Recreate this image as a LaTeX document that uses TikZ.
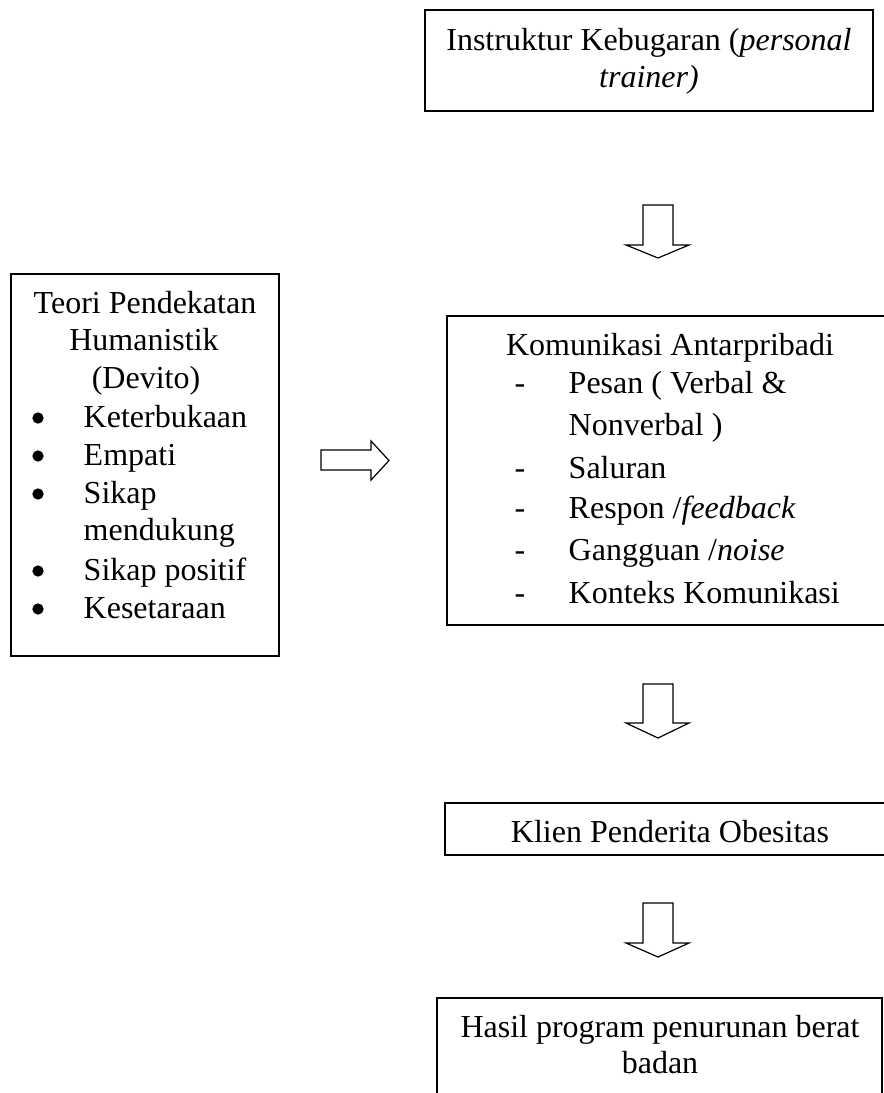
\documentclass[tikz,border=0pt]{standalone}
\usepackage{fontspec}
\setmainfont{Liberation Serif}
\usepackage{tikz}

\tikzset{
  txt/.style={anchor=base,font=\fontsize{24}{29}\selectfont},
  txtl/.style={txt,anchor=base west},
  box/.style={line width=1pt},
  blockarrow/.style={line width=0.9pt,line join=miter},
  bulletdot/.style={circle,fill,inner sep=0pt,minimum size=8.5pt}
}

\begin{document}
\begin{tikzpicture}[x=0.75pt,y=0.75pt,yscale=-1,xscale=1]
%set diagram left start at 0, and has height of 1093
\clip (0,0) rectangle (884,1093);

%Shape: Rectangle [top]
\draw [box] (425,10) rectangle (873,111) ;
%Shape: Rectangle [left]
\draw [box] (11,274) rectangle (279,656) ;
%Shape: Rectangle [middle]
\draw [box] (447,316) rectangle (900,625) ;
%Shape: Rectangle [klien]
\draw [box] (445,803) rectangle (900,855) ;
%Shape: Rectangle [hasil]
\draw [box] (437,998) rectangle (882,1110) ;

%Shape: Down Arrow
\draw [blockarrow] (643,205) -- (673,205) -- (673,245) -- (689,245) -- (658,258) -- (626,245) -- (643,245) -- cycle ;
%Shape: Down Arrow
\draw [blockarrow] (643,684) -- (673,684) -- (673,723) -- (689,723) -- (658,738) -- (626,723) -- (643,723) -- cycle ;
%Shape: Down Arrow
\draw [blockarrow] (643,903) -- (673,903) -- (673,943) -- (689,943) -- (658,957) -- (626,943) -- (643,943) -- cycle ;
%Shape: Right Arrow
\draw [blockarrow] (321,450) -- (371,450) -- (371,441) -- (389,460.5) -- (371,480) -- (371,470) -- (321,470) -- cycle ;

% Text Node
\node [txt] (instruktur) at (649,50) {Instruktur Kebugaran (\textit{personal}};
% Text Node
\node [txt] (trainer) at (649,87) {\textit{trainer)}};

% Text Node
\node [txt] (teori) at (145,313) {Teori Pendekatan};
% Text Node
\node [txt] (humanistik) at (144,350) {Humanistik};
% Text Node
\node [txt] (devito) at (146,388) {(Devito)};
% Text Node
\node [txtl] (keterbukaan) at (79,427) {Keterbukaan};
% Text Node
\node [txtl] (empati) at (79,465) {Empati};
% Text Node
\node [txtl] (sikap) at (79,503) {Sikap};
% Text Node
\node [txtl] (mendukung) at (79,540) {mendukung};
% Text Node
\node [txtl] (positif) at (79,580) {Sikap positif};
% Text Node
\node [txtl] (kesetaraan) at (79,618) {Kesetaraan};
% Bullets
\foreach \y in {427,465,503,580,618}
  \node [bulletdot] (bullet\y) at (38,\y-9) {};

% Text Node
\node [txt] (komunikasi) at (670,355) {Komunikasi Antarpribadi};
% Text Node
\node [txtl] (pesan) at (564,393) {Pesan ( Verbal \&};
% Text Node
\node [txtl] (nonverbal) at (564,435) {Nonverbal )};
% Text Node
\node [txtl] (saluran) at (564,478) {Saluran};
% Text Node
\node [txtl] (respon) at (564,518) {Respon /\textit{feedback}};
% Text Node
\node [txtl] (gangguan) at (564,560) {Gangguan /\textit{noise}};
% Text Node
\node [txtl] (konteks) at (564,603) {Konteks Komunikasi};
% Dashes
\foreach \y in {393,478,518,560,603}
  \node [txt] (dash\y) at (520,\y) {-};

% Text Node
\node [txt] (klien) at (670,842) {Klien Penderita Obesitas};
% Text Node
\node [txt] (hasil) at (660,1037) {Hasil program penurunan berat};
% Text Node
\node [txt] (badan) at (660,1073) {badan};

\end{tikzpicture}
\end{document}
